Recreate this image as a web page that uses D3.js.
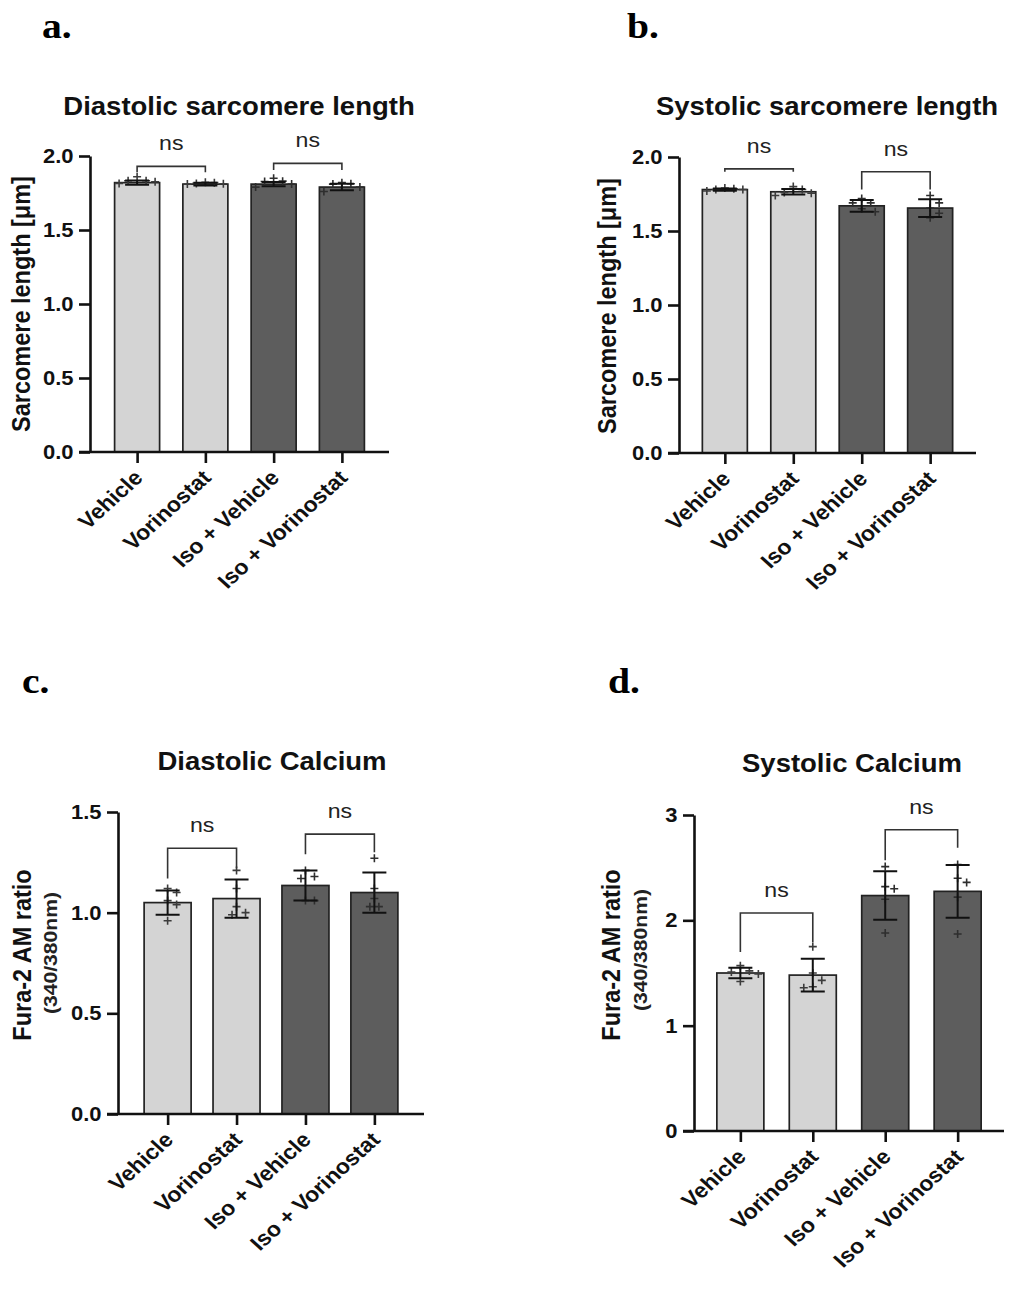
<!DOCTYPE html>
<html>
<head>
<meta charset="utf-8">
<script src="https://cdnjs.cloudflare.com/ajax/libs/d3/7.8.5/d3.min.js"></script>
<style>
  body { margin: 0; background: #fff; }
  svg { display: block; }
  text { font-family: "Liberation Sans", Arial, sans-serif; }
</style>
</head>
<body>
<svg width="1010" height="1290"></svg>
<script>
// groups shared by all four panels
const categories = ["Vehicle", "Vorinostat", "Iso + Vehicle", "Iso + Vorinostat"];

// a. diastolic sarcomere length (µm)
const diaSarcMean = [1.82, 1.81, 1.81, 1.79];
const diaSarcSD = [0.015, 0.01, 0.015, 0.022];
const diaSarcPts = [[1.86, 1.833, 1.833, 1.826, 1.815], [1.822, 1.82, 1.815, 1.812, 1.81], [1.85, 1.83, 1.828, 1.81, 1.79], [1.82, 1.812, 1.81, 1.79, 1.76]];
const diaSarcBrTop = [1.93, 1.95];
const diaSarcBrLeg = [[1.89, 1.89], [1.905, 1.905]];

// b. systolic sarcomere length (µm)
const sysSarcMean = [1.78, 1.765, 1.67, 1.655];
const sysSarcSD = [0.008, 0.018, 0.04, 0.06];
const sysSarcPts = [[1.79, 1.785, 1.78, 1.78, 1.77], [1.80, 1.78, 1.76, 1.755, 1.74], [1.72, 1.69, 1.69, 1.65, 1.63], [1.74, 1.69, 1.655, 1.62, 1.59]];
const sysSarcBrTop = [1.92, 1.90];
const sysSarcBrLeg = [[1.90, 1.90], [1.78, 1.78]];

// c. diastolic calcium (Fura-2 ratio)
const diaCaMean = [1.05, 1.07, 1.135, 1.10];
const diaCaSD = [0.06, 0.095, 0.075, 0.10];
const diaCaPts = [[1.12, 1.10, 1.06, 1.04, 0.96], [1.21, 1.12, 1.03, 1.00, 0.99], [1.21, 1.18, 1.17, 1.06, 1.06], [1.27, 1.12, 1.07, 1.03, 1.03]];
const diaCaBrTop = [1.32, 1.39];
const diaCaBrLeg = [[1.17, 1.22], [1.29, 1.30]];

// d. systolic calcium (Fura-2 ratio)
const sysCaMean = [1.50, 1.48, 2.235, 2.275];
const sysCaSD = [0.05, 0.155, 0.23, 0.25];
const sysCaPts = [[1.57, 1.52, 1.51, 1.49, 1.42], [1.75, 1.50, 1.43, 1.37, 1.36], [2.51, 2.32, 2.30, 2.20, 1.88], [2.53, 2.40, 2.36, 2.22, 1.87]];
const sysCaBrTop = [2.07, 2.86];
const sysCaBrLeg = [[1.70, 1.79], [2.57, 2.69]];

const sarcTicks = [0, 0.5, 1.0, 1.5, 2.0];
const diaCaTicks = [0, 0.5, 1.0, 1.5];
const sysCaTicks = [0, 1, 2, 3];
const pairs = [[0, 1], [2, 3]];

var svg = d3.select("svg");
var sx = 1.1; // the source picture is a bit wider than tall

var panels = [
  { letter: "a.", lx: 42, ly: 38, title: "Diastolic sarcomere length", tx: 239, ty: 115,
    ylab: "Sarcomere length [μm]", ylx: 30, yly: 304,
    x0: 90, x1: 389, pad: 0.69, yTop: 156, yBot: 452, dom: [0, 2], ticks: sarcTicks, fmt: d3.format(".1f"), bw: 45,
    mean: diaSarcMean, sd: diaSarcSD, pts: diaSarcPts, brTop: diaSarcBrTop, brLeg: diaSarcBrLeg },
  { letter: "b.", lx: 627, ly: 38, title: "Systolic sarcomere length", tx: 827, ty: 115,
    ylab: "Sarcomere length [μm]", ylx: 616, yly: 306,
    x0: 679, x1: 976, pad: 0.67, yTop: 157, yBot: 453, dom: [0, 2], ticks: sarcTicks, fmt: d3.format(".1f"), bw: 45,
    mean: sysSarcMean, sd: sysSarcSD, pts: sysSarcPts, brTop: sysSarcBrTop, brLeg: sysSarcBrLeg },
  { letter: "c.", lx: 22, ly: 693, title: "Diastolic Calcium", tx: 272, ty: 770,
    ylab: "Fura-2 AM ratio", ylx: 31, yly: 955, sub: "(340/380nm)", subx: 57, suby: 953,
    x0: 118, x1: 424, pad: 0.72, yTop: 812, yBot: 1114, dom: [0, 1.5], ticks: diaCaTicks, fmt: d3.format(".1f"), bw: 47,
    mean: diaCaMean, sd: diaCaSD, pts: diaCaPts, brTop: diaCaBrTop, brLeg: diaCaBrLeg },
  { letter: "d.", lx: 608, ly: 693, title: "Systolic Calcium", tx: 852, ty: 772,
    ylab: "Fura-2 AM ratio", ylx: 620, yly: 955, sub: "(340/380nm)", subx: 647, suby: 950,
    x0: 694, x1: 1004, pad: 0.64, yTop: 815, yBot: 1131, dom: [0, 3], ticks: sysCaTicks, fmt: d3.format("d"), bw: 47,
    mean: sysCaMean, sd: sysCaSD, pts: sysCaPts, brTop: sysCaBrTop, brLeg: sysCaBrLeg }
];

// simple beeswarm: push points sideways when they would overlap
var swarm = function(vals, y, dist) {
  var placed = [];
  return vals.map(function(v) {
    var py = y(v), off = 0;
    for (var k = 0; k < 40; k++) {
      var cand = (k % 2 ? 1 : -1) * Math.ceil(k / 2) * dist * 0.5;
      var ok = placed.every(function(p) {
        var dx = p.x - cand, dy = p.y - py;
        return dx * dx + dy * dy >= dist * dist;
      });
      if (ok) { off = cand; break; }
    }
    placed.push({ x: off, y: py });
    return { x: off, y: py };
  });
};

var drawPanel = function(p) {
  var g = svg.append("g");
  var x = d3.scalePoint().domain(categories).range([p.x0, p.x1]).padding(p.pad);
  var y = d3.scaleLinear().domain(p.dom).range([p.yBot, p.yTop]);

  // bars
  g.selectAll("rect.bar").data(p.mean).join("rect")
    .attr("x", (d, i) => x(categories[i]) - p.bw / 2)
    .attr("y", d => y(d))
    .attr("width", p.bw)
    .attr("height", d => p.yBot - y(d))
    .style("fill", (d, i) => i < 2 ? "#d4d4d4" : "#5d5d5d")
    .style("stroke", "#222").style("stroke-width", 1.7);

  // individual points as plus marks
  p.pts.forEach(function(vals, i) {
    var cx = x(categories[i]);
    swarm(vals, y, 9).forEach(function(pt) {
      g.append("path")
        .attr("d", "M" + (cx + pt.x - 4) + "," + pt.y + "h8M" + (cx + pt.x) + "," + (pt.y - 4) + "v8")
        .style("stroke", i < 2 ? "#3c3c3c" : "#2e2e2e").style("stroke-width", 1.6).style("fill", "none");
    });
  });

  // error bars, mean ± SD
  p.mean.forEach(function(m, i) {
    var cx = x(categories[i]), cap = 12;
    var hi = y(m + p.sd[i]), lo = y(m - p.sd[i]);
    g.append("path")
      .attr("d", "M" + cx + "," + hi + "V" + lo +
        "M" + (cx - cap) + "," + hi + "H" + (cx + cap) +
        "M" + (cx - cap) + "," + lo + "H" + (cx + cap))
      .style("stroke", "#111").style("stroke-width", 2).style("fill", "none");
  });

  // significance brackets
  pairs.forEach(function(pr, j) {
    var xa = x(categories[pr[0]]), xb = x(categories[pr[1]]);
    var top = y(p.brTop[j]);
    g.append("path")
      .attr("d", "M" + xa + "," + y(p.brLeg[j][0]) + "V" + top + "H" + xb + "V" + y(p.brLeg[j][1]))
      .style("stroke", "#333").style("stroke-width", 1.6).style("fill", "none");
    g.append("text")
      .attr("transform", "translate(" + ((xa + xb) / 2) + "," + (top - 16) + ") scale(" + sx + ",1)")
      .attr("text-anchor", "middle")
      .style("font-size", "21px").style("fill", "#222")
      .text("ns");
  });

  // axes
  var yAxis = g.append("g")
    .attr("transform", "translate(" + p.x0 + ",0)")
    .call(d3.axisLeft(y).tickValues(p.ticks).tickFormat(p.fmt).tickSize(11).tickSizeOuter(0).tickPadding(4));
  yAxis.selectAll("text")
    .attr("transform", "scale(" + sx + ",1)")
    .style("font-size", "20px").style("font-weight", "bold").style("fill", "#111");

  var xAxis = g.append("g")
    .attr("transform", "translate(0," + p.yBot + ")")
    .call(d3.axisBottom(x).tickSize(11).tickSizeOuter(0).tickFormat(""));
  xAxis.select(".domain").attr("d", "M" + (p.x0 - 11) + ",0H" + p.x1);

  g.selectAll(".domain, .tick line").style("stroke", "#111").style("stroke-width", 2.6);

  // rotated category labels
  g.selectAll("text.cat").data(categories).join("text")
    .attr("class", "cat")
    .attr("transform", d => "translate(" + (x(d) + 7) + "," + (p.yBot + 27) + ") scale(" + sx + ",1) rotate(-45)")
    .attr("text-anchor", "end")
    .style("font-size", "21px").style("font-weight", "bold").style("fill", "#111")
    .text(d => d);

  // titles and labels
  g.append("text")
    .attr("transform", "translate(" + p.tx + "," + p.ty + ") scale(" + sx + ",1)")
    .attr("text-anchor", "middle")
    .style("font-size", "25px").style("font-weight", "bold").style("fill", "#111")
    .text(p.title);

  g.append("text")
    .attr("transform", "translate(" + p.lx + "," + p.ly + ") scale(" + sx + ",1)")
    .style("font-family", "'Liberation Serif', 'Times New Roman', serif")
    .style("font-size", "36px").style("font-weight", "bold")
    .text(p.letter);

  g.append("text")
    .attr("transform", "translate(" + p.ylx + "," + p.yly + ") scale(" + sx + ",1) rotate(-90)")
    .attr("text-anchor", "middle")
    .style("font-size", "23.5px").style("font-weight", "bold").style("fill", "#111")
    .text(p.ylab);

  if (p.sub) {
    g.append("text")
      .attr("transform", "translate(" + p.subx + "," + p.suby + ") scale(" + sx + ",1) rotate(-90)")
      .attr("text-anchor", "middle")
      .style("font-size", "17px").style("font-weight", "bold").style("fill", "#222")
      .attr("textLength", 122).attr("lengthAdjust", "spacingAndGlyphs")
      .text(p.sub);
  }
};

panels.forEach(drawPanel);
</script>
</body>
</html>
